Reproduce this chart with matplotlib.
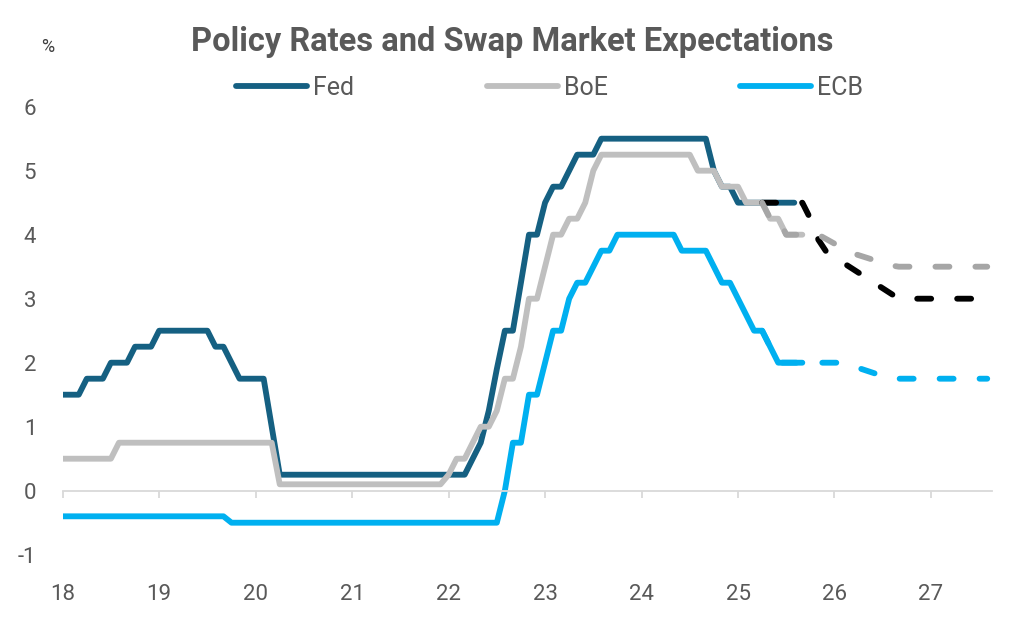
import pandas as pd
import matplotlib
matplotlib.use('Agg')
import matplotlib.pyplot as plt

plt.rcParams['font.family'] = ['Roboto', 'DejaVu Sans']
plt.rcParams['axes.unicode_minus'] = False

# monthly policy rates, starting Jan 2018 (%)
fed = [
    1.5, 1.5, 1.5, 1.75, 1.75, 1.75, 2.0, 2.0, 2.0, 2.25, 2.25, 2.25,        # 2018
    2.5, 2.5, 2.5, 2.5, 2.5, 2.5, 2.5, 2.25, 2.25, 2.0, 1.75, 1.75,          # 2019
    1.75, 1.75, 1.0, 0.25, 0.25, 0.25, 0.25, 0.25, 0.25, 0.25, 0.25, 0.25,   # 2020
    0.25, 0.25, 0.25, 0.25, 0.25, 0.25, 0.25, 0.25, 0.25, 0.25, 0.25, 0.25,  # 2021
    0.25, 0.25, 0.25, 0.5, 0.75, 1.25, 1.9, 2.5, 2.5, 3.25, 4.0, 4.0,        # 2022
    4.5, 4.75, 4.75, 5.0, 5.25, 5.25, 5.25, 5.5, 5.5, 5.5, 5.5, 5.5,         # 2023
    5.5, 5.5, 5.5, 5.5, 5.5, 5.5, 5.5, 5.5, 5.5, 5.0, 4.75, 4.75,            # 2024
    4.5, 4.5, 4.5, 4.5, 4.5, 4.5, 4.5, 4.5,                                  # 2025
]
boe = [
    0.5, 0.5, 0.5, 0.5, 0.5, 0.5, 0.5, 0.75, 0.75, 0.75, 0.75, 0.75,         # 2018
    0.75, 0.75, 0.75, 0.75, 0.75, 0.75, 0.75, 0.75, 0.75, 0.75, 0.75, 0.75,  # 2019
    0.75, 0.75, 0.75, 0.1, 0.1, 0.1, 0.1, 0.1, 0.1, 0.1, 0.1, 0.1,           # 2020
    0.1, 0.1, 0.1, 0.1, 0.1, 0.1, 0.1, 0.1, 0.1, 0.1, 0.1, 0.1,              # 2021
    0.25, 0.5, 0.5, 0.75, 1.0, 1.0, 1.25, 1.75, 1.75, 2.25, 3.0, 3.0,        # 2022
    3.5, 4.0, 4.0, 4.25, 4.25, 4.5, 5.0, 5.25, 5.25, 5.25, 5.25, 5.25,       # 2023
    5.25, 5.25, 5.25, 5.25, 5.25, 5.25, 5.25, 5.0, 5.0, 5.0, 4.75, 4.75,     # 2024
    4.75, 4.5, 4.5, 4.5, 4.25, 4.25, 4.0, 4.0, 4.0,                          # 2025
]
ecb = [
    -0.4, -0.4, -0.4, -0.4, -0.4, -0.4, -0.4, -0.4, -0.4, -0.4, -0.4, -0.4,  # 2018
    -0.4, -0.4, -0.4, -0.4, -0.4, -0.4, -0.4, -0.4, -0.4, -0.5, -0.5, -0.5,  # 2019
    -0.5, -0.5, -0.5, -0.5, -0.5, -0.5, -0.5, -0.5, -0.5, -0.5, -0.5, -0.5,  # 2020
    -0.5, -0.5, -0.5, -0.5, -0.5, -0.5, -0.5, -0.5, -0.5, -0.5, -0.5, -0.5,  # 2021
    -0.5, -0.5, -0.5, -0.5, -0.5, -0.5, -0.5, 0.0, 0.75, 0.75, 1.5, 1.5,     # 2022
    2.0, 2.5, 2.5, 3.0, 3.25, 3.25, 3.5, 3.75, 3.75, 4.0, 4.0, 4.0,          # 2023
    4.0, 4.0, 4.0, 4.0, 4.0, 3.75, 3.75, 3.75, 3.75, 3.5, 3.25, 3.25,        # 2024
    3.0, 2.75, 2.5, 2.5, 2.25, 2.0, 2.0, 2.0, 2.0,                           # 2025
]

# swap market expectations (turning points only)
fed_fc_dates = ['2025-04', '2025-09', '2025-10', '2025-11', '2025-12', '2026-09', '2027-08']
fed_fc = [4.5, 4.5, 4.25, 3.92, 3.73, 3.0, 3.0]
boe_fc_dates = ['2025-04', '2025-05', '2025-06', '2025-07', '2025-11', '2026-03', '2026-08', '2026-09', '2027-08']
boe_fc = [4.5, 4.25, 4.25, 4.0, 4.0, 3.72, 3.52, 3.5, 3.5]
ecb_fc_dates = ['2025-04', '2025-05', '2025-06', '2026-02', '2026-08', '2027-08']
ecb_fc = [2.5, 2.25, 2.0, 2.0, 1.75, 1.75]

year_ticks = [18, 19, 20, 21, 22, 23, 24, 25, 26, 27]
y_ticks = [-1, 0, 1, 2, 3, 4, 5, 6]


def to_year(dates):
    d = pd.to_datetime(dates)
    return (d.year - 2000) + (d.month - 1) / 12


def monthly_x(values):
    return to_year(pd.date_range('2018-01-01', periods=len(values), freq='MS'))


C_FED = '#156082'
C_BOE = '#BFBFBF'
C_ECB = '#00B0F0'
C_TXT = '#595959'
LW = 4.2
DASH = (2.4, 4.45)

fig = plt.figure(figsize=(10.24, 6.29), dpi=100)
ax = fig.add_axes([0.0612, 0.1181, 0.9073, 0.7123])

kw = dict(lw=LW, solid_capstyle='round', solid_joinstyle='round')
ax.plot(monthly_x(fed), fed, color=C_FED, label='Fed', **kw)
ax.plot(monthly_x(boe), boe, color=C_BOE, label='BoE', **kw)
ax.plot(monthly_x(ecb), ecb, color=C_ECB, label='ECB', **kw)

kwd = dict(lw=LW, dashes=DASH, dash_capstyle='round', dash_joinstyle='round')
ax.plot(to_year(fed_fc_dates), fed_fc, color='black', **kwd)
ax.plot(to_year(boe_fc_dates), boe_fc, color='#A6A6A6', **kwd)
ax.plot(to_year(ecb_fc_dates), ecb_fc, color=C_ECB, **kwd)

ax.set_xlim(18, 27.63)
ax.set_ylim(-1, 6)

# x axis line sits at zero, labels stay at the bottom
for s in ['top', 'right', 'left']:
    ax.spines[s].set_visible(False)
ax.spines['bottom'].set_position(('data', 0))
ax.spines['bottom'].set_color('#D9D9D9')
ax.spines['bottom'].set_linewidth(1.3)
ax.set_xticks(year_ticks)
ax.set_xticklabels([str(y) for y in year_ticks])
ax.tick_params(axis='x', direction='out', length=5, width=1.3, color='#D9D9D9',
               pad=62, labelsize=16, labelcolor=C_TXT)
ax.set_yticks(y_ticks)
ax.tick_params(axis='y', length=0, pad=19, labelsize=16, labelcolor=C_TXT)

fig.text(0.5, 0.933, 'Policy Rates and Swap Market Expectations', ha='center', va='center',
         fontsize=23.5, fontweight='bold', color=C_TXT)
fig.text(0.047, 0.925, '%', ha='center', va='center', fontsize=13, color='#404040')

fig.legend(loc='center', bbox_to_anchor=(0.537, 0.860), ncol=3, frameon=False,
           fontsize=18, handlelength=2.84, handletextpad=0.24, columnspacing=5.3,
           labelcolor=C_TXT)

fig.savefig('out.png', dpi=100)
